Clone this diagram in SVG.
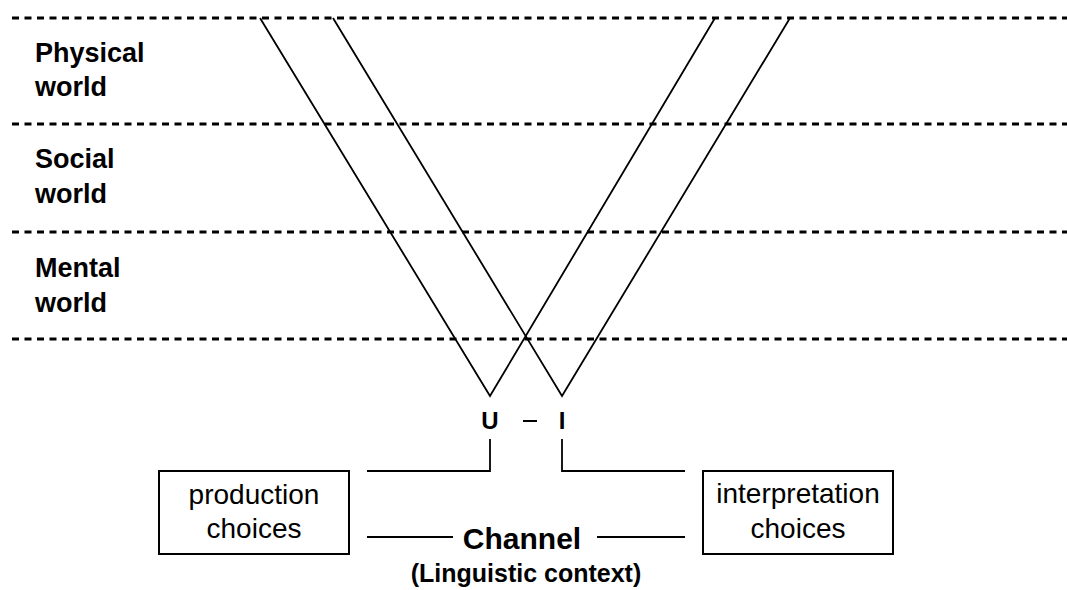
<svg xmlns="http://www.w3.org/2000/svg" width="1067" height="590" viewBox="0 0 1067 590">
<style>
.dash{stroke:#000;stroke-width:3;stroke-dasharray:7 5.5;fill:none}
.ln{stroke:#000;stroke-width:1.8;fill:none;stroke-linejoin:miter}
.lbl{font-family:"Liberation Sans",Arial,sans-serif;font-weight:bold;font-size:27px;fill:#000}
.box{stroke:#000;stroke-width:2;fill:#fff}
.bt{font-family:"Liberation Sans",Arial,sans-serif;font-size:28px;fill:#000;text-anchor:middle}
.bb{font-family:"Liberation Sans",Arial,sans-serif;font-weight:bold;fill:#000;text-anchor:middle}
</style>
<rect width="1067" height="590" fill="#fff"/>
<g id="levels">
<line class="dash" x1="12" y1="18" x2="1067" y2="18"/>
<line class="dash" x1="12" y1="124" x2="1067" y2="124"/>
<line class="dash" x1="12" y1="232" x2="1067" y2="232"/>
<line class="dash" x1="12" y1="339" x2="1067" y2="339"/>
</g>
<g id="physical">
<text class="lbl" x="35" y="62">Physical</text>
<text class="lbl" x="35" y="96">world</text>
</g>
<g id="social">
<text class="lbl" x="35" y="168">Social</text>
<text class="lbl" x="35" y="203">world</text>
</g>
<g id="mental">
<text class="lbl" x="35" y="277">Mental</text>
<text class="lbl" x="35" y="312">world</text>
</g>
<g id="connectors">
<polyline class="ln" points="260,18 490,396 715,18"/>
<polyline class="ln" points="333,18 562,396 790,18"/>
<polyline class="ln" points="490,439 490,471 367,471"/>
<polyline class="ln" points="562,439 562,471 685,471"/>
<line class="ln" x1="367" y1="537" x2="453" y2="537"/>
<line class="ln" x1="597" y1="537" x2="685" y2="537"/>
</g>
<g id="ui">
<text class="bb" x="490" y="429" font-size="24" style="font-size:24px">U</text>
<line x1="523" y1="421" x2="537" y2="421" stroke="#000" stroke-width="2"/>
<text class="bb" x="562" y="429" style="font-size:24px">I</text>
</g>
<g id="production">
<rect class="box" x="159" y="471" width="190" height="83"/>
<text class="bt" x="254" y="504">production</text>
<text class="bt" x="254" y="538">choices</text>
</g>
<g id="interpretation">
<rect class="box" x="703" y="471" width="190" height="83"/>
<text class="bt" x="798" y="503">interpretation</text>
<text class="bt" x="798" y="538">choices</text>
</g>
<g id="channel">
<text class="bb" x="522" y="549" style="font-size:30px">Channel</text>
<text class="bb" x="526" y="582" style="font-size:25px">(Linguistic context)</text>
</g>
</svg>
